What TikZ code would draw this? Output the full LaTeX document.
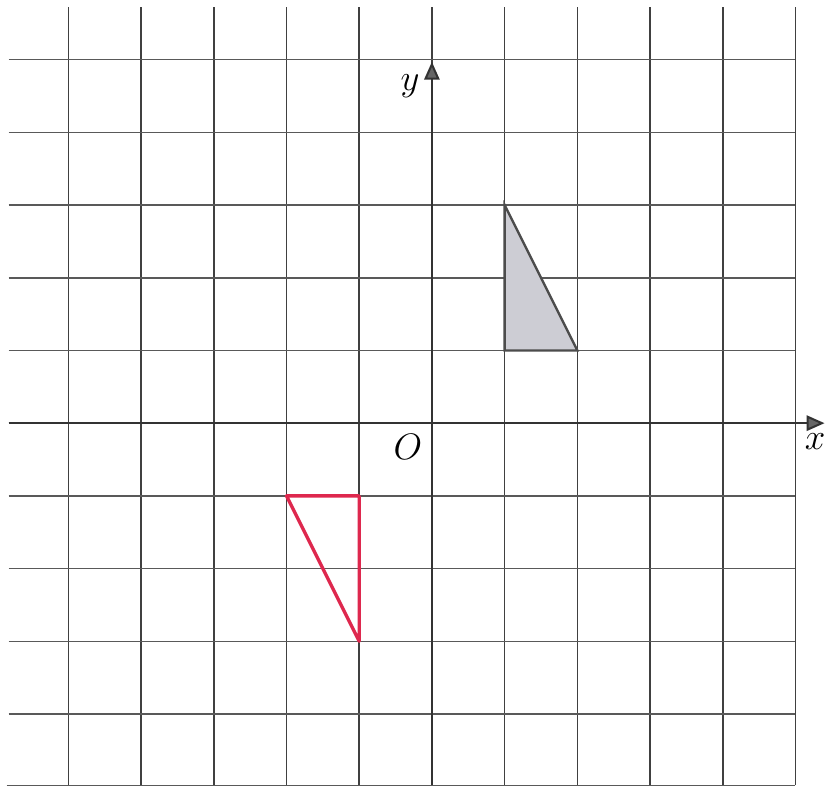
\documentclass[tikz,border=0pt]{standalone}
\usetikzlibrary{arrows.meta}
\definecolor{redline}{RGB}{222,40,78}
\definecolor{shade}{RGB}{205,205,212}
\tikzset{
  gridv/.style={draw=black!75, line width=0.6pt},
  gridh/.style={draw=black!65, line width=0.6pt},
  axis/.style={draw=black!80, line width=0.8pt, -{Triangle[length=7pt,width=6pt,fill=black!60]}},
  lbl/.style={font=\Large, inner sep=1pt}
}
\begin{document}
\begin{tikzpicture}
\useasboundingbox (-5.94,-5.01) rectangle (5.42,5.82);
% grid
\foreach \x in {-5,...,5} {\draw[gridv] (\x,-4.98) -- (\x,5.72);}
\foreach \y in {-4,...,5} {\draw[gridh] (-5.82,\y) -- (5,\y);}
\draw[gridh] (-5.85,-4.98) -- (5,-4.98);
% axes
\coordinate (xs) at (-5.82,0);
\coordinate (xe) at (5.40,0);
\coordinate (ys) at (0,-4.98);
\coordinate (ye) at (0,4.97);
\draw[axis] (xs) -- (xe);
\draw[axis] (ys) -- (ye);
\node[lbl] (ylab) at (-0.30,4.64) {$y$};
\node[lbl] (olab) at (-0.33,-0.32) {$O$};
\node[lbl] (xlab) at (5.27,-0.25) {$x$};
% gray triangle
\coordinate (A) at (1,3);
\coordinate (B) at (1,1);
\coordinate (C) at (2,1);
\filldraw[fill=shade, draw=black!70, line width=0.9pt] (A) -- (B) -- (C) -- cycle;
% red triangle
\coordinate (P) at (-2,-1);
\coordinate (Q) at (-1,-1);
\coordinate (R) at (-1,-3);
\draw[redline, line width=1.3pt, line join=round] (P) -- (Q) -- (R) -- cycle;
\end{tikzpicture}
\end{document}
